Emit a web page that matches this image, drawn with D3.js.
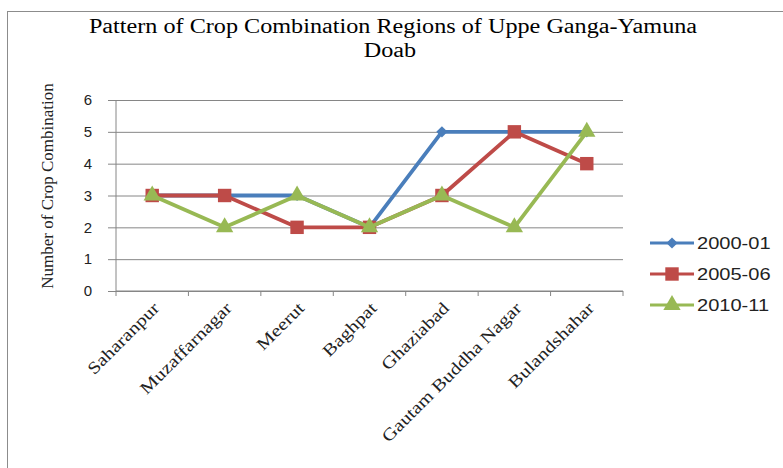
<!DOCTYPE html>
<html>
<head>
<meta charset="utf-8">
<script src="https://cdn.jsdelivr.net/npm/d3@7"></script>
<style>
  body { margin: 0; background: #fff; }
  svg { display: block; }
</style>
</head>
<body>
<div class="chart"></div>
<script>
const districts = ['Saharanpur', 'Muzaffarnagar', 'Meerut', 'Baghpat', 'Ghaziabad', 'Gautam Buddha Nagar', 'Bulandshahar'];
const series2000 = [3, 3, 3, 2, 5, 5, 5];
const series2005 = [3, 3, 2, 2, 3, 5, 4];
const series2010 = [3, 2, 3, 2, 3, 2, 5];
const yTicks = [0, 1, 2, 3, 4, 5, 6];

const seriesList = [
  { name: '2000-01', values: series2000, color: '#4a7ebb', marker: 'diamond' },
  { name: '2005-06', values: series2005, color: '#be4b48', marker: 'square' },
  { name: '2010-11', values: series2010, color: '#98b954', marker: 'triangle' },
];

const width = 783, height = 468;
const margin = { left: 116, top: 100, right: 160, bottom: 177 };
const plotW = width - margin.left - margin.right;
const plotH = height - margin.top - margin.bottom;
// the source picture has wide, horizontally stretched glyphs
const stretch = 1.21;

const svg = d3.select('.chart').append('svg')
  .attr('width', width)
  .attr('height', height);

// outer chart border
svg.append('rect')
  .attr('x', 7.5).attr('y', 11.5)
  .attr('width', 800).attr('height', 500)
  .attr('fill', 'none')
  .attr('stroke', '#8c8c8c');

svg.append('text')
  .attr('transform', 'translate(393,33) scale(' + stretch + ',1)')
  .attr('text-anchor', 'middle')
  .style('font-family', '"Liberation Serif", serif')
  .style('font-size', '20px')
  .text('Pattern of Crop Combination Regions of Uppe Ganga-Yamuna');
svg.append('text')
  .attr('transform', 'translate(390,57) scale(' + stretch + ',1)')
  .attr('text-anchor', 'middle')
  .style('font-family', '"Liberation Serif", serif')
  .style('font-size', '20px')
  .text('Doab');

const g = svg.append('g')
  .attr('transform', 'translate(' + margin.left + ',' + margin.top + ')');

const x = d3.scaleBand().domain(districts).range([0, plotW]);
const y = d3.scaleLinear().domain([0, 6]).range([plotH, 0]);

// gridlines + y axis
const yAxis = g.append('g')
  .call(d3.axisLeft(y).tickValues(yTicks).tickFormat(d3.format('d'))
    .tickSize(-plotW).tickSizeOuter(0).tickPadding(24));
yAxis.select('.domain').remove();
yAxis.selectAll('.tick line')
  .attr('stroke', '#868686')
  .attr('x1', -8);
yAxis.selectAll('.tick text')
  .style('font-family', '"Liberation Sans", sans-serif')
  .style('font-size', '15px')
  .attr('fill', '#222');

g.append('line')
  .attr('x1', 0).attr('x2', 0)
  .attr('y1', 0).attr('y2', plotH)
  .attr('stroke', '#868686');

// x axis with boundary ticks
const xAxisG = g.append('g').attr('transform', 'translate(0,' + plotH + ')');
xAxisG.append('line')
  .attr('x1', 0).attr('x2', plotW)
  .attr('stroke', '#868686');
const bounds = districts.map((d) => x(d)).concat([plotW]);
xAxisG.selectAll('.bt')
  .data(bounds)
  .join('line')
  .attr('x1', (d) => d).attr('x2', (d) => d)
  .attr('y1', 0).attr('y2', 5)
  .attr('stroke', '#868686');
xAxisG.selectAll('.cat')
  .data(districts)
  .join('text')
  .attr('transform', (d) => 'translate(' + (x(d) + x.bandwidth() / 2 + 4) + ',' + 14 + ') rotate(-45) scale(' + stretch + ',1)')
  .attr('text-anchor', 'end')
  .attr('dy', '0.35em')
  .style('font-family', '"Liberation Serif", serif')
  .style('font-size', '17px')
  .attr('fill', '#222')
  .text((d) => d);

// y axis title
svg.append('text')
  .attr('transform', 'translate(53,186) rotate(-90)')
  .attr('text-anchor', 'middle')
  .style('font-family', '"Liberation Serif", serif')
  .style('font-size', '17px')
  .attr('fill', '#222')
  .text('Number of  Crop Combination');

function markerPath(type) {
  if (type === 'diamond') return d3.symbol(d3.symbolDiamond2, 80)();
  if (type === 'square') return d3.symbol(d3.symbolSquare, 180)();
  return d3.symbol(d3.symbolTriangle, 130)();
}

const line = d3.line()
  .x((d, i) => x(districts[i]) + x.bandwidth() / 2)
  .y((d) => y(d));

seriesList.forEach((s) => {
  g.append('path')
    .datum(s.values)
    .attr('d', line)
    .attr('fill', 'none')
    .attr('stroke', s.color)
    .attr('stroke-width', 3.8)
    .attr('stroke-linejoin', 'round');
  g.selectAll('.m-' + s.marker)
    .data(s.values)
    .join('path')
    .attr('transform', (d, i) => 'translate(' + (x(districts[i]) + x.bandwidth() / 2) + ',' + y(d) + ')')
    .attr('d', markerPath(s.marker))
    .attr('fill', s.color);
});

// legend
const legend = svg.append('g').attr('transform', 'translate(650,243)');
seriesList.forEach((s, i) => {
  const row = legend.append('g').attr('transform', 'translate(0,' + i * 31 + ')');
  row.append('line')
    .attr('x1', 0).attr('x2', 44)
    .attr('stroke', s.color)
    .attr('stroke-width', 3);
  row.append('path')
    .attr('transform', 'translate(22,0)')
    .attr('d', markerPath(s.marker))
    .attr('fill', s.color);
  row.append('text')
    .attr('transform', 'translate(47,0) scale(1.18,1)')
    .attr('dy', '0.35em')
    .style('font-family', '"Liberation Sans", sans-serif')
    .style('font-size', '17px')
    .attr('fill', '#222')
    .text(s.name);
});
</script>
</body>
</html>
